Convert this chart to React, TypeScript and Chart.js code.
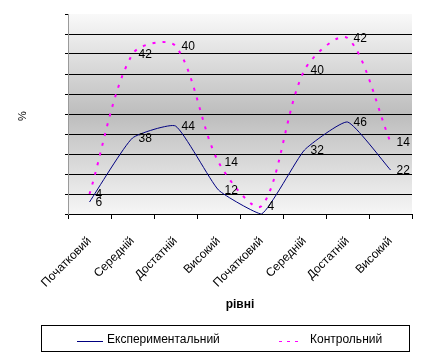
import React, { useEffect, useRef } from "react";
import { Chart, registerables } from "chart.js";

Chart.register(...registerables);

const categories = [
  "Початковий",
  "Середній",
  "Достатній",
  "Високий",
  "Початковий",
  "Середній",
  "Достатній",
  "Високий",
];
const experimental = [6, 38, 44, 12, 0, 32, 46, 22];
const control = [4, 42, 40, 14, 4, 40, 42, 14];
const seriesNames = ["Експериментальний", "Контрольний"];
const yTitle = "%";
const xTitle = "рівні";

const FONT = "'Liberation Sans', Arial, sans-serif";

const bgPlugin = {
  id: "bgGradient",
  beforeDraw(chart: any) {
    const { ctx, chartArea } = chart;
    if (!chartArea) return;
    const g = ctx.createLinearGradient(0, chartArea.top, 0, chartArea.bottom);
    g.addColorStop(0, "#f9f9f9");
    g.addColorStop(0.5, "#bdbdbd");
    g.addColorStop(1, "#f6f6f6");
    ctx.save();
    ctx.fillStyle = g;
    ctx.fillRect(
      chartArea.left,
      chartArea.top,
      chartArea.right - chartArea.left,
      chartArea.bottom - chartArea.top
    );
    ctx.restore();
  },
};

const labelsPlugin = {
  id: "valueLabels",
  afterDatasetsDraw(chart: any) {
    const { ctx } = chart;
    ctx.save();
    ctx.font = `12px ${FONT}`;
    ctx.fillStyle = "#000";
    ctx.textAlign = "left";
    ctx.textBaseline = "middle";
    chart.data.datasets.forEach((ds: any, di: number) => {
      const meta = chart.getDatasetMeta(di);
      meta.data.forEach((pt: any, i: number) => {
        const v = ds.data[i];
        if (!v) return;
        ctx.fillText(String(v), pt.x + 6, pt.y + 1);
      });
    });
    ctx.restore();
  },
};

const decorPlugin = {
  id: "decor",
  afterDraw(chart: any) {
    const { ctx, chartArea } = chart;
    ctx.save();
    ctx.fillStyle = "#000";
    ctx.font = `bold 12px ${FONT}`;
    ctx.textAlign = "center";
    ctx.textBaseline = "middle";
    ctx.fillText(xTitle, (chartArea.left + chartArea.right) / 2, 305);
    ctx.save();
    ctx.translate(23, 116);
    ctx.rotate(-Math.PI / 2);
    ctx.font = `11px ${FONT}`;
    ctx.fillText(yTitle, 0, 0);
    ctx.restore();

    ctx.strokeStyle = "#000";
    ctx.lineWidth = 1;
    ctx.strokeRect(41.5, 325.5, 368, 26);
    const ds = chart.data.datasets;
    const items = [
      { x0: 77, x1: 103, tx: 107, dash: [] as number[] },
      { x0: 279, x1: 302, tx: 310, dash: [3, 5] },
    ];
    ds.forEach((d: any, i: number) => {
      const it = items[i];
      ctx.save();
      ctx.strokeStyle = d.borderColor;
      ctx.lineWidth = 1;
      ctx.setLineDash(it.dash);
      ctx.beginPath();
      ctx.moveTo(it.x0, 341.5);
      ctx.lineTo(it.x1, 341.5);
      ctx.stroke();
      ctx.restore();
      ctx.font = `12px ${FONT}`;
      ctx.textAlign = "left";
      ctx.textBaseline = "middle";
      ctx.fillStyle = "#000";
      ctx.fillText(d.label, it.tx, 340);
    });
    ctx.restore();
  },
};

export default function App() {
  const ref = useRef<HTMLCanvasElement | null>(null);

  useEffect(() => {
    if (!ref.current) return;
    const chart = new Chart(ref.current, {
      type: "line",
      data: {
        labels: categories,
        datasets: [
          {
            label: seriesNames[0],
            data: experimental,
            borderColor: "#000080",
            backgroundColor: "#000080",
            borderWidth: 1,
            pointRadius: 0,
            tension: 0.15,
            fill: false,
          },
          {
            label: seriesNames[1],
            data: control,
            borderColor: "#ff00ff",
            backgroundColor: "#ff00ff",
            borderWidth: 2,
            borderDash: [3, 7],
            pointRadius: 0,
            tension: 0.3,
            fill: false,
          },
        ],
      },
      options: {
        animation: false,
        responsive: true,
        maintainAspectRatio: false,
        layout: { padding: { top: 14, right: 12, left: 0, bottom: 0 } },
        plugins: {
          legend: { display: false },
          tooltip: { enabled: false },
          title: { display: false },
        },
        scales: {
          x: {
            offset: true,
            grid: {
              offset: true,
              drawOnChartArea: false,
              color: "#000",
              tickLength: 5,
            },
            border: { display: true, color: "#000", width: 1 },
            ticks: {
              autoSkip: false,
              minRotation: 45,
              maxRotation: 45,
              padding: 15,
              color: "#000",
              font: { family: FONT, size: 12 },
            },
            afterFit(scale: any) {
              scale.height = 146;
              scale.paddingLeft = 0;
              scale.paddingRight = 0;
            },
          },
          y: {
            stacked: true,
            min: 0,
            max: 100,
            ticks: { stepSize: 10, display: false },
            grid: {
              color: (c: any) =>
                c.tick && (c.tick.value === 0 || c.tick.value === 100)
                  ? "rgba(0,0,0,0)"
                  : "#000",
              tickColor: "#000",
              tickLength: 3,
              lineWidth: 1,
            },
            border: { display: true, color: "#9a9a9a", width: 1 },
            afterFit(scale: any) {
              scale.width = 68;
            },
          },
        },
      },
      plugins: [bgPlugin, labelsPlugin, decorPlugin],
    });
    return () => chart.destroy();
  }, []);

  return (
    <div
      style={{
        position: "fixed",
        left: 0,
        top: 0,
        width: 424,
        height: 360,
        background: "#fff",
      }}
    >
      <canvas ref={ref} />
    </div>
  );
}
